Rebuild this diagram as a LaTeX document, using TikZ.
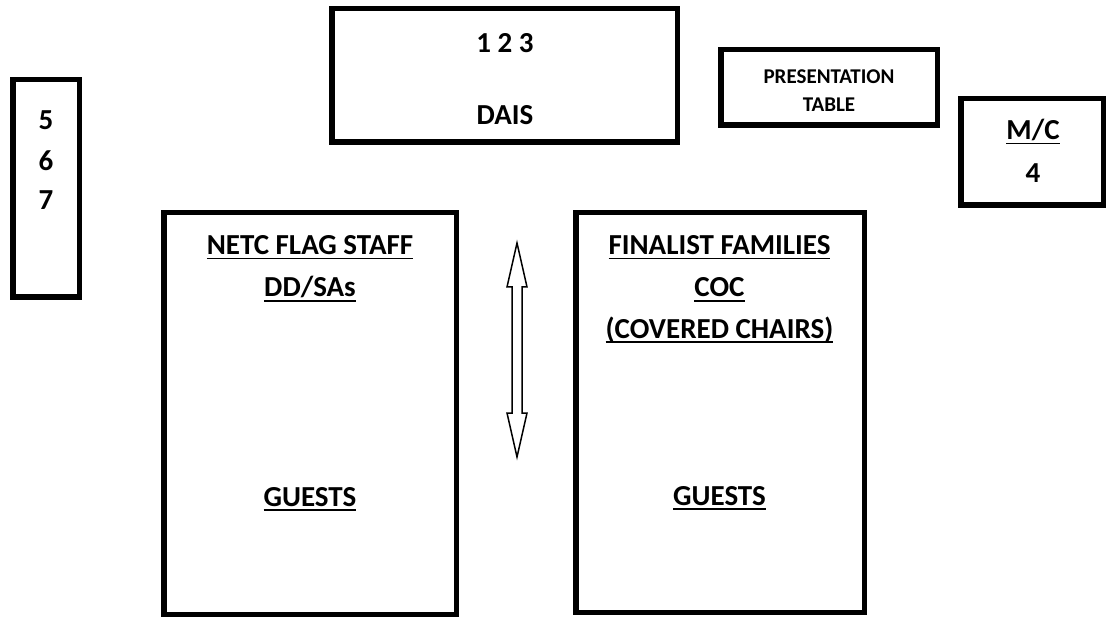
\documentclass[tikz,border=0pt]{standalone}
\usepackage{fontspec}
\setmainfont{Carlito}
\newcommand{\myul}[1]{\setbox0=\hbox{#1}\dimen0=\wd0\rlap{\box0}\rule[-4.5pt]{\dimen0}{1.9pt}}
\tikzset{
  box/.style={draw=black, line width=5.5pt, fill=white, rectangle, inner sep=0pt},
  lbl/.style={anchor=base, inner sep=0pt, font=\fontsize{29}{32}\selectfont\bfseries},
  slbl/.style={anchor=base, inner sep=0pt, font=\fontsize{21}{24}\selectfont\bfseries},
  blockarrow/.style={draw=black, line width=1.5pt, fill=white, line join=miter}
}
\begin{document}
\begin{tikzpicture}[x=1pt,y=-1pt]
\useasboundingbox (0,0) rectangle (1107,617);
% boxes
\node[box, minimum width=66.5pt, minimum height=217.5pt] (col) at (46,188.5) {};
\node[box, minimum width=345.5pt, minimum height=133.5pt] (dais) at (504.5,75.5) {};
\node[box, minimum width=216.5pt, minimum height=75.5pt] (pres) at (829,87.5) {};
\node[box, minimum width=142.5pt, minimum height=106.5pt] (mc) at (1032,152) {};
\node[box, minimum width=292.5pt, minimum height=401.5pt] (left) at (310,413.5) {};
\node[box, minimum width=288.5pt, minimum height=399.5pt] (right) at (720,412.5) {};
% texts
\node[lbl] (t5) at (46,130) {5};
\node[lbl] (t6) at (46,171) {6};
\node[lbl] (t7) at (46,210) {7};
\node[lbl] (t123) at (505,53) {1 2 3};
\node[lbl] (tdais) at (505,125) {DAIS};
\node[slbl] (tpres) at (829,83.5) {PRESENTATION};
\node[slbl] (ttable) at (829,112) {TABLE};
\node[lbl] (tmc) at (1033,140) {\myul{M/C}};
\node[lbl] (t4) at (1033,183) {4};
\node[lbl] (tnetc) at (310,255) {\myul{NETC FLAG STAFF}};
\node[lbl] (tdd) at (310,297) {\myul{DD/SAs}};
\node[lbl] (tg1) at (310,506) {\myul{GUESTS}};
\node[lbl] (tfin) at (719.5,255) {\myul{FINALIST FAMILIES}};
\node[lbl] (tcoc) at (719.5,297) {\myul{COC}};
\node[lbl] (tcov) at (719.5,338) {\myul{(COVERED CHAIRS)}};
\node[lbl] (tg2) at (719.5,505) {\myul{GUESTS}};
% double block arrow
\coordinate (atop) at (517,243);
\coordinate (abot) at (517,457);
\draw[blockarrow] (atop) -- (527,287) -- (522,287) -- (522,413) -- (527,413) -- (abot)
  -- (507,413) -- (512,413) -- (512,287) -- (507,287) -- cycle;
\end{tikzpicture}
\end{document}
